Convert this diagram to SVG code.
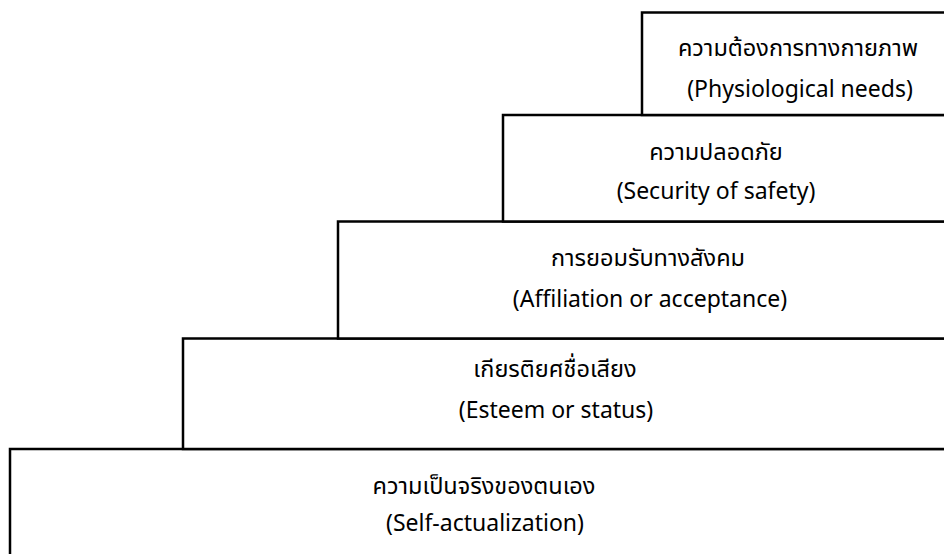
<svg xmlns="http://www.w3.org/2000/svg" width="944" height="554" viewBox="0 0 944 554">
<style>
.box{fill:#fff;stroke:#000;stroke-width:2.5}
.th{font-family:"Noto Sans Thai","Noto Sans","DejaVu Sans",sans-serif;font-size:23.5px;fill:#000;text-anchor:middle}
.en{font-family:"Noto Sans","Liberation Sans",sans-serif;font-size:23px;fill:#000;text-anchor:middle}
</style>
<rect width="944" height="554" fill="#fff"/>
<g id="level5">
<rect class="box" x="10" y="449" width="960" height="120"/>
<text class="th" x="484" y="494">ความเป็นจริงของตนเอง</text>
<text class="en" x="485" y="531">(Self-actualization)</text>
</g>
<g id="level4">
<rect class="box" x="183" y="338.5" width="800" height="110.5"/>
<text class="th" x="555" y="377">เกียรติยศชื่อเสียง</text>
<text class="en" x="556" y="418">(Esteem or status)</text>
</g>
<g id="level3">
<rect class="box" x="338" y="221.5" width="640" height="117"/>
<text class="th" x="648" y="266">การยอมรับทางสังคม</text>
<text class="en" x="650" y="307">(Affiliation or acceptance)</text>
</g>
<g id="level2">
<rect class="box" x="503" y="115" width="470" height="106.5"/>
<text class="th" x="716" y="160">ความปลอดภัย</text>
<text class="en" x="716" y="199">(Security of safety)</text>
</g>
<g id="level1">
<rect class="box" x="642" y="12.5" width="330" height="102.5"/>
<text class="th" x="798" y="56">ความต้องการทางกายภาพ</text>
<text class="en" x="800" y="97">(Physiological needs)</text>
</g>
<g id="connectors"/>
</svg>
